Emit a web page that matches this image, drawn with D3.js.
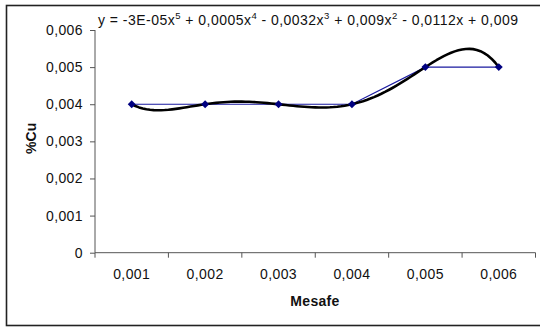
<!DOCTYPE html>
<html>
<head>
<meta charset="utf-8">
<script src="https://cdn.jsdelivr.net/npm/d3@7"></script>
<style>
  html, body { margin: 0; padding: 0; background: #fff; }
  svg { display: block; font-family: "Liberation Sans", Arial, sans-serif; }
</style>
</head>
<body>
<svg id="chart" width="540" height="327"></svg>
<script>
// Copper percentage measured along the distance (Mesafe)
const categories = ["0,001", "0,002", "0,003", "0,004", "0,005", "0,006"];
const cuValues = [0.004, 0.004, 0.004, 0.004, 0.005, 0.005];
const yTicks = [0, 0.001, 0.002, 0.003, 0.004, 0.005, 0.006];
const trendDegree = 5;
const equationParts = [
  ["y = -3E-05x", "5"], [" + 0,0005x", "4"], [" - 0,0032x", "3"],
  [" + 0,009x", "2"], [" - 0,0112x + 0,009", ""]
];

// Least-squares polynomial fit (Excel-style trendline on category index 1..n)
function polyfit(xs, ys, deg) {
  const n = deg + 1;
  const A = Array.from({length: n}, () => new Array(n + 1).fill(0));
  for (let r = 0; r < n; r++) {
    for (let c = 0; c < n; c++) A[r][c] = d3.sum(xs, x => Math.pow(x, r + c));
    A[r][n] = d3.sum(xs, (x, i) => ys[i] * Math.pow(x, r));
  }
  for (let i = 0; i < n; i++) {
    let p = i;
    for (let k = i + 1; k < n; k++) if (Math.abs(A[k][i]) > Math.abs(A[p][i])) p = k;
    [A[i], A[p]] = [A[p], A[i]];
    for (let k = 0; k < n; k++) {
      if (k === i) continue;
      const f = A[k][i] / A[i][i];
      for (let c = i; c <= n; c++) A[k][c] -= f * A[i][c];
    }
  }
  return A.map((row, i) => row[n] / row[i]);
}

const svg = d3.select("#chart");
const plot = {left: 95, right: 535.5, top: 30, bottom: 252.7};
const FS = 14;
const LS = 0.4;

// outer chart frame
svg.append("rect")
  .attr("x", 6.5).attr("y", 5.5).attr("width", 540).attr("height", 320)
  .attr("fill", "#fff").attr("stroke", "#222").attr("stroke-width", 1.6);

const x = d3.scaleBand().domain(categories).range([plot.left, plot.right]).padding(0);
const y = d3.scaleLinear().domain([0, 0.006]).range([plot.bottom, plot.top]);
const fmt = v => v === 0 ? "0" : d3.format(".3f")(v).replace(".", ",");

// y axis
const yAxis = svg.append("g")
  .attr("transform", `translate(${plot.left},0)`)
  .call(d3.axisLeft(y).tickValues(yTicks).tickFormat(fmt).tickSize(5).tickPadding(7));
yAxis.select(".domain").attr("stroke", "#555").attr("d", `M0,${plot.top}V${plot.bottom}`);
yAxis.selectAll(".tick line").attr("stroke", "#555");
yAxis.selectAll(".tick text").attr("font-size", FS).attr("fill", "#111")
  .attr("letter-spacing", LS)
  .attr("font-family", "Liberation Sans, Arial, sans-serif");

// x axis with tick marks between categories
const xAxis = svg.append("g").attr("transform", `translate(0,${plot.bottom})`);
xAxis.append("line").attr("x1", plot.left).attr("x2", plot.right)
  .attr("stroke", "#555");
const bounds = categories.map(c => x(c)).concat([plot.right]);
xAxis.selectAll(".tk").data(bounds).join("line")
  .attr("x1", d => d).attr("x2", d => d).attr("y1", 0).attr("y2", 5)
  .attr("stroke", "#555");
xAxis.selectAll(".lbl").data(categories).join("text")
  .attr("x", d => x(d) + x.bandwidth() / 2).attr("y", 26)
  .attr("text-anchor", "middle").attr("font-size", FS).attr("fill", "#111")
  .attr("letter-spacing", LS)
  .text(d => d);

// axis titles
svg.append("text").attr("x", 315).attr("y", 306)
  .attr("text-anchor", "middle").attr("font-size", FS).attr("font-weight", "bold")
  .attr("letter-spacing", 0.3)
  .attr("fill", "#111").text("Mesafe");
svg.append("text")
  .attr("transform", `translate(36,${(plot.top + plot.bottom) / 2 - 3}) rotate(-90)`)
  .attr("text-anchor", "middle").attr("font-size", FS).attr("font-weight", "bold")
  .attr("fill", "#111").text("%Cu");

const cx = i => x(categories[i]) + x.bandwidth() / 2;

// data series line
svg.append("path")
  .datum(cuValues)
  .attr("fill", "none").attr("stroke", "#1a1aa0").attr("stroke-width", 1.2)
  .attr("d", d3.line().x((d, i) => cx(i)).y(d => y(d)));

// polynomial trendline (order 5)
const idx = cuValues.map((d, i) => i + 1);
const coef = polyfit(idx, cuValues, trendDegree);
const evalPoly = t => coef.reduce((s, c, k) => s + c * Math.pow(t, k), 0);
const tSamples = d3.range(1, 6.0001, 0.05);
const tx = d3.scaleLinear().domain([1, 6]).range([cx(0), cx(5)]);
svg.append("path")
  .datum(tSamples)
  .attr("fill", "none").attr("stroke", "#000").attr("stroke-width", 2.6)
  .attr("stroke-linejoin", "round")
  .attr("d", d3.line().x(t => tx(t)).y(t => y(evalPoly(t))));

// markers
svg.selectAll(".mk").data(cuValues).join("path")
  .attr("transform", (d, i) => `translate(${cx(i)},${y(d)})`)
  .attr("d", d3.symbol(d3.symbolDiamond2, 40))
  .attr("fill", "#000080");

// trendline equation
const eq = svg.append("text").attr("x", 98).attr("y", 25)
  .attr("font-size", FS).attr("fill", "#111");
let shift = 0;
equationParts.forEach(([base, sup]) => {
  eq.append("tspan").attr("dy", shift).text(base);
  shift = 0;
  if (sup) {
    eq.append("tspan").attr("font-size", 9.5).attr("dy", -6).text(sup);
    shift = 6;
  }
});
const eqLen = eq.node().getComputedTextLength();
const eqTarget = 420;
const nChars = eq.text().length;
eq.attr("letter-spacing", Math.max(0, (eqTarget - eqLen) / (nChars - 1)));
</script>
</body>
</html>
